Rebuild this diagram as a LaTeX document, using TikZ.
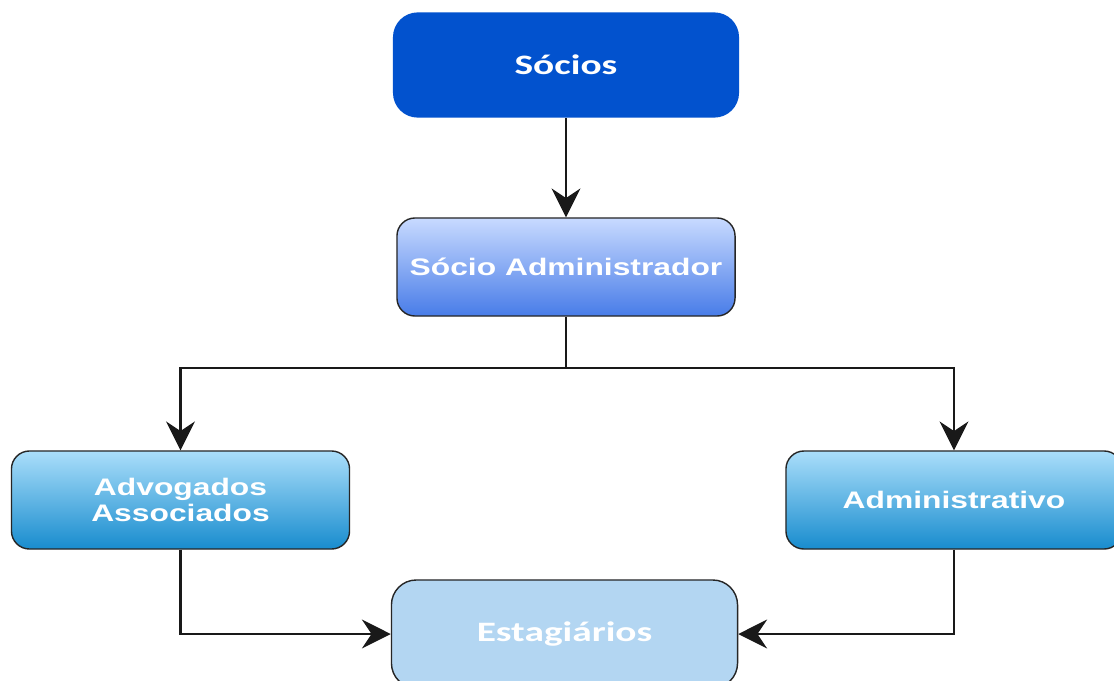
\documentclass[tikz,border=0pt]{standalone}
\usepackage{fontspec}
\usepackage{xcolor}
\newfontfamily\calfont[FakeStretch=1.4]{Carlito}
\newfontfamily\arlfont[FakeStretch=1.33]{Liberation Sans}
\usetikzlibrary{arrows.meta}
\definecolor{sociosblue}{RGB}{2,82,206}
\definecolor{admtop}{RGB}{200,218,255}
\definecolor{admbot}{RGB}{72,124,232}
\definecolor{cyantop}{RGB}{170,222,250}
\definecolor{cyanbot}{RGB}{24,140,206}
\definecolor{estagfill}{RGB}{179,214,242}

\begin{document}
\begin{tikzpicture}[x=0.025cm,y=-0.025cm,>={Stealth[length=0.72cm,width=0.72cm,inset=0.24cm]},
  box/.style={rectangle,rounded corners=0.45cm,draw=black!85,line width=1pt,
    minimum width=8.45cm,minimum height=2.45cm,text=white,align=center,
    font=\arlfont\bfseries\fontsize{17}{18.5}\selectfont},
  bigbox/.style={box,rounded corners=0.62cm,minimum width=8.65cm,minimum height=2.63cm,
    font=\calfont\bfseries\fontsize{20}{22}\selectfont},
  link/.style={line width=1.5pt,black!90}]
  \clip (0,0) rectangle (1114,680);
  \fill[white] (0,0) rectangle (1114,680);
  % nodes
  \node[bigbox,fill=sociosblue,draw=none] (socios) at (566,65) {Sócios};
  \node[box,top color=admtop,bottom color=admbot] (sadm) at (566,267) {Sócio Administrador};
  \node[box,top color=cyantop,bottom color=cyanbot] (advog) at (180.5,500) {Advogados\\Associados};
  \node[box,top color=cyantop,bottom color=cyanbot,minimum width=8.4cm] (admin) at (954,500) {Administrativo};
  \node[bigbox,fill=estagfill,minimum height=2.7cm] (estag) at (564.5,634) {Estagiários};
  \coordinate (split) at (566,368);
  % connectors
  \draw[link,->] (socios) -- (sadm);
  \draw[link] (sadm) -- (split);
  \draw[link,->] (split) -| (advog);
  \draw[link,->] (split) -| (admin);
  \draw[link,->] (advog) |- (estag);
  \draw[link,->] (admin) |- (estag);
\end{tikzpicture}
\end{document}
